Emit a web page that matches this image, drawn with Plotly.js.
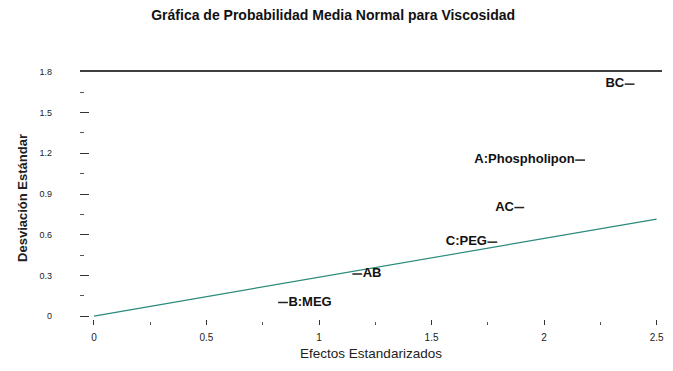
<!DOCTYPE html>
<html><head><meta charset="utf-8">
<script src="https://cdn.plot.ly/plotly-3.0.1.min.js"></script>
<style>body{margin:0}</style></head>
<body><div id="g" style="width:673px;height:371px"></div>
<script>
const labels = ["BC", "A:Phospholipon", "AC", "C:PEG", "AB", "B:MEG"];
const effects = [2.38, 2.16, 1.89, 1.77, 1.17, 0.84];
const stdDev = [1.71, 1.15, 0.80, 0.545, 0.31, 0.10];
const textPos = ["middle left", "middle left", "middle left", "middle left", "middle right", "middle right"];
const lineX = [0, 2.5];
const lineY = [0, 0.715];
const xTicks = [0, 0.5, 1, 1.5, 2, 2.5];
const xTickText = ["0", "0.5", "1", "1.5", "2", "2.5"];
const yTicks = [0, 0.3, 0.6, 0.9, 1.2, 1.5, 1.8];
const yTickText = ["0", "0.3", "0.6", "0.9", "1.2", "1.5", "1.8"];

const traces = [
  {x: lineX, y: lineY, mode: "lines", line: {color: "#2a8a7c", width: 1.2}, hoverinfo: "skip"},
  {x: effects, y: stdDev, text: labels, mode: "markers+text", textposition: textPos,
   marker: {symbol: "line-ew-open", size: 7, color: "#222", line: {color: "#222", width: 1.5}},
   textfont: {family: "Liberation Sans, Arial, sans-serif", size: 13, color: "#111", weight: "bold"}}
];
const layout = {
  width: 673, height: 371, showlegend: false,
  paper_bgcolor: "#fff", plot_bgcolor: "#fff",
  margin: {l: 80, r: 11, t: 71, b: 46},
  font: {family: "Liberation Sans, Arial, sans-serif", color: "#222"},
  title: {text: "Gráfica de Probabilidad Media Normal para Viscosidad", x: 0.495, xanchor: "center", y: 0.96, yanchor: "middle",
          font: {size: 14, color: "#111", weight: "bold"}},
  xaxis: {range: [-0.062, 2.524], tickvals: xTicks, ticktext: xTickText, showgrid: false, zeroline: false,
          showline: false, ticks: "inside", ticklen: 5, tickcolor: "#333", tickfont: {size: 10},
          ticklabelstandoff: 5,
          minor: {tickvals: [0.25, 0.75, 1.25, 1.75, 2.25], ticks: "inside", ticklen: 3, tickcolor: "#555"},
          title: {text: "Efectos Estandarizados", font: {size: 13.5}, standoff: 6}},
  yaxis: {range: [-0.066, 1.807], tickvals: yTicks, ticktext: yTickText, showgrid: false, zeroline: false,
          showline: false, ticks: "inside", ticklen: 9, tickcolor: "#333", tickfont: {size: 9},
          ticklabelstandoff: 27,
          minor: {tickvals: [0.15, 0.45, 0.75, 1.05, 1.35, 1.65], ticks: "inside", ticklen: 4, tickcolor: "#555"},
          title: {text: "Desviación Estándar", font: {size: 13, weight: "bold"}, standoff: 8}},
  shapes: [{type: "line", xref: "paper", yref: "paper", x0: 0, x1: 1, y0: 1, y1: 1, line: {color: "#000", width: 1.5}}]
};
Plotly.newPlot("g", traces, layout, {displayModeBar: false, staticPlot: true});
</script></body></html>
